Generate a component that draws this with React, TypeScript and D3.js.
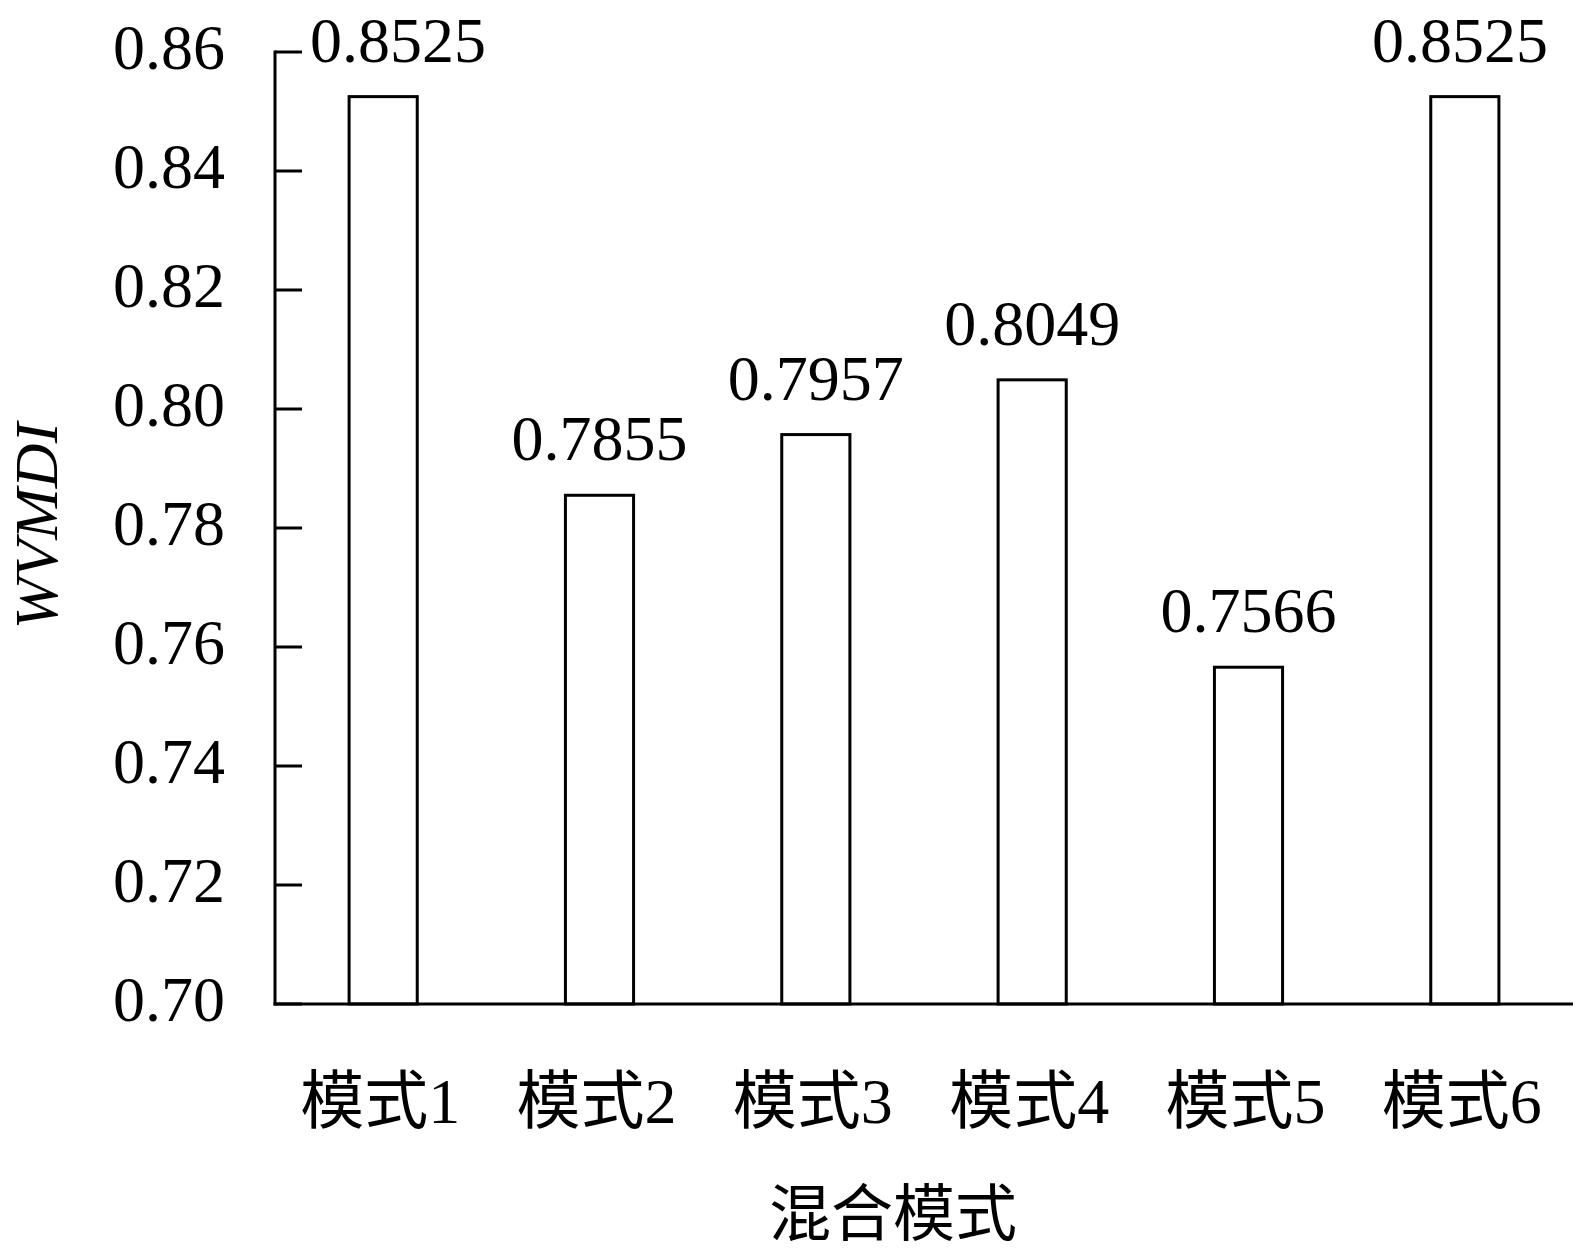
import * as d3 from "d3";

const WIDTH = 1576;
const HEIGHT = 1252;
const MARGIN = { top: 52, right: 3, bottom: 248, left: 275 };

const CATEGORIES = ["模式1", "模式2", "模式3", "模式4", "模式5", "模式6"];
const VALUES = [0.8525, 0.7855, 0.7957, 0.8049, 0.7566, 0.8525];
const Y_TICKS = [0.7, 0.72, 0.74, 0.76, 0.78, 0.8, 0.82, 0.84, 0.86];
const X_TITLE = "混合模式";
const Y_TITLE = "WVMDI";

const FONT = '"Liberation Serif", "Times New Roman", "Noto Sans CJK SC", serif';
const FS = 64;

export default function App() {
  const x = d3
    .scaleBand()
    .domain(CATEGORIES)
    .range([MARGIN.left, WIDTH - MARGIN.right])
    .paddingInner(0.685)
    .paddingOuter(0.3425);

  const y = d3
    .scaleLinear()
    .domain([0.7, 0.86])
    .range([HEIGHT - MARGIN.bottom, MARGIN.top]);

  const baseY = y(0.7);
  const fmt = d3.format(".2f");

  // keep value labels from running into the axis / page edge
  const labelX = (c: string, v: number) => {
    const cx = (x(c) ?? 0) + x.bandwidth() / 2;
    const half = (v.toFixed(4).length - 0.5) * FS * 0.25;
    const lo = MARGIN.left + 35 + half;
    const hi = WIDTH - 28 - half;
    return Math.min(Math.max(cx, lo), hi);
  };

  return (
    <svg
      width={WIDTH}
      height={HEIGHT}
      style={{ position: "absolute", left: 0, top: 0, background: "#fff" }}
      fontFamily={FONT}
    >
      {VALUES.map((v, i) => (
        <rect
          key={CATEGORIES[i]}
          x={x(CATEGORIES[i]) ?? 0}
          y={y(v)}
          width={x.bandwidth()}
          height={baseY - y(v)}
          fill="#fff"
          stroke="#000"
          strokeWidth={3}
        />
      ))}

      {VALUES.map((v, i) => (
        <text
          key={`${CATEGORIES[i]}-val`}
          x={labelX(CATEGORIES[i], v)}
          y={y(v) - 35}
          textAnchor="middle"
          fontSize={FS}
        >
          {v.toFixed(4)}
        </text>
      ))}

      {/* y axis */}
      <line
        x1={MARGIN.left}
        x2={MARGIN.left}
        y1={y(0.86) - 1.5}
        y2={baseY + 1.5}
        stroke="#000"
        strokeWidth={3}
      />
      {Y_TICKS.map((t) => (
        <g key={t}>
          <line
            x1={MARGIN.left}
            x2={MARGIN.left + 27}
            y1={y(t)}
            y2={y(t)}
            stroke="#000"
            strokeWidth={3}
          />
          <text
            x={MARGIN.left - 50}
            y={y(t) + 17}
            textAnchor="end"
            fontSize={FS}
          >
            {fmt(t)}
          </text>
        </g>
      ))}

      {/* x axis */}
      <line
        x1={MARGIN.left - 1.5}
        x2={WIDTH - MARGIN.right}
        y1={baseY}
        y2={baseY}
        stroke="#000"
        strokeWidth={3}
      />
      {CATEGORIES.map((c) => (
        <text
          key={`${c}-tick`}
          x={(x(c) ?? 0) + x.bandwidth() / 2 - 3}
          y={1123}
          textAnchor="middle"
          fontSize={FS}
        >
          {c}
        </text>
      ))}

      <text x={893} y={1236} textAnchor="middle" fontSize={FS - 2}>
        {X_TITLE}
      </text>
      <text
        transform={`translate(57, 526) rotate(-90)`}
        textAnchor="middle"
        fontSize={FS - 2}
        fontStyle="italic"
      >
        {Y_TITLE}
      </text>
    </svg>
  );
}
